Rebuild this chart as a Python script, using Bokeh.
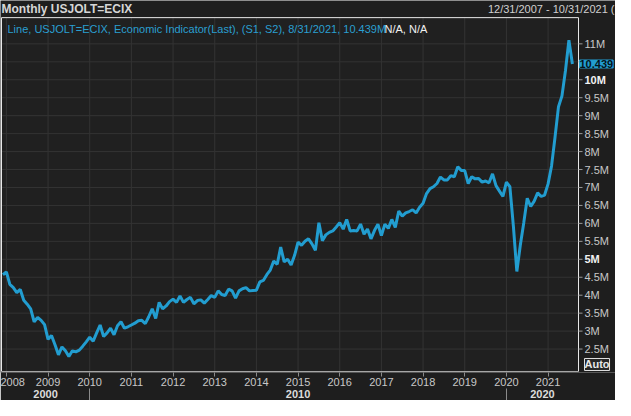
from bokeh.plotting import figure
from bokeh.models import (FixedTicker, LinearAxis, Label, Range1d, ColumnDataSource)
from bokeh.core.properties import value
from bokeh.embed import file_html
from bokeh.resources import INLINE

# ---------------- data ----------------
start_year = 2007
start_month = 12
# Monthly job openings, millions (Dec 2007 .. Aug 2021)
openings_m = [
    4.57,
    4.65, 4.30, 4.21, 4.07, 4.16, 3.86, 3.75, 3.62, 3.26, 3.38, 3.30, 3.18,   # 2008
    2.77, 2.88, 2.62, 2.34, 2.56, 2.45, 2.29, 2.45, 2.42, 2.47, 2.58, 2.70,   # 2009
    2.83, 2.72, 2.95, 3.17, 2.85, 2.95, 3.08, 2.90, 3.15, 3.26, 3.08, 3.12,   # 2010
    3.17, 3.22, 3.29, 3.30, 3.21, 3.40, 3.62, 3.35, 3.80, 3.62, 3.70, 3.82,   # 2011
    3.89, 3.80, 3.98, 3.80, 3.88, 3.94, 3.76, 3.85, 3.87, 3.78, 3.88, 3.99,   # 2012
    3.94, 4.12, 4.02, 3.99, 4.17, 4.12, 3.92, 4.12, 4.18, 4.21, 4.12, 4.13,   # 2013
    4.14, 4.37, 4.41, 4.57, 4.70, 4.95, 4.86, 5.34, 4.93, 5.00, 4.84, 5.11,   # 2014
    5.48, 5.39, 5.50, 5.57, 5.43, 5.25, 6.02, 5.52, 5.68, 5.75, 5.79, 5.90,   # 2015
    6.02, 5.84, 6.11, 5.79, 5.80, 5.79, 5.98, 5.70, 5.84, 5.57, 5.80, 5.98,   # 2016
    5.66, 5.98, 5.86, 6.11, 5.89, 6.34, 6.20, 6.29, 6.33, 6.38, 6.29, 6.45,   # 2017
    6.56, 6.83, 6.97, 7.02, 7.11, 7.29, 7.21, 7.21, 7.33, 7.30, 7.58, 7.47,   # 2018
    7.47, 7.11, 7.30, 7.24, 7.25, 7.15, 7.18, 7.13, 7.38, 7.05, 6.90, 6.75,   # 2019
    7.15, 7.02, 5.93, 4.66, 5.39, 6.02, 6.70, 6.47, 6.62, 6.85, 6.75, 6.79,   # 2020
    7.10, 7.60, 8.40, 9.25, 9.55, 10.25, 11.10, 10.439,                       # 2021
]
year_ticks = list(range(2008, 2022))
value_ticks = [2.5, 3.0, 3.5, 4.0, 4.5, 5.0, 5.5, 6.0, 6.5, 7.0, 7.5, 8.0,
               8.5, 9.0, 9.5, 10.0, 10.5, 11.0]
bold_value_ticks = [5.0, 10.0]
covered_value_ticks = [10.5]          # hidden behind the last-value tag
decade_labels = ["2000", "2010", "2020"]
decade_bounds = [2010, 2020]
title_text = "Monthly USJOLT=ECIX"
range_text = "12/31/2007 - 10/31/2021 ("
legend_text = "Line, USJOLT=ECIX, Economic Indicator(Last), (S1, S2), 8/31/2021, 10.439M"
legend_na = "N/A, N/A"
last_text = "10.439"
auto_text = "Auto"

# ---------------- layout / style ----------------
W, H = 615, 400
X0, X1 = 2007.883, 2021.73          # visible time span of the chart area
Y0, Y1 = 1.875, 11.73               # visible value span of the chart area
DATA_L, DATA_R, DATA_T = 1, 578, 17  # chart-area edges in figure pixels
BOTTOM_PANEL = 31
ppx = (DATA_R - DATA_L) / (X1 - X0)
ppy = (H - BOTTOM_PANEL - DATA_T - 1) / (Y1 - Y0)
XL, XR = X0 - DATA_L / ppx, X1 + (W - DATA_R) / ppx
YB, YT = Y0 - 1 / ppy, Y1 + DATA_T / ppy

FONT = "Liberation Sans"
BG = "#1e1e1e"
PLOT_BG = "#202020"
GRID = "#333333"
LINE = "#229dd0"
TXT = "#c8c8c8"
BORDER = "#e8e8e8"

t = [start_year + (start_month - 1) / 12 + i / 12 for i in range(len(openings_m))]

p = figure(width=W, height=H, output_backend="svg", toolbar_location=None,
           x_range=Range1d(XL, XR), y_range=Range1d(YB, YT),
           y_axis_location=None,
           min_border_left=0, min_border_right=0, min_border_top=0, min_border_bottom=0)
p.border_fill_color = BG
p.background_fill_color = BG
p.outline_line_color = None
p.xgrid.visible = False
p.ygrid.visible = False

# x axis (years)
xa = p.xaxis[0]
xa.ticker = FixedTicker(ticks=year_ticks, minor_ticks=[])
xa.axis_line_color = None
xa.major_tick_out = 4
xa.major_tick_in = 0
xa.major_tick_line_color = "#8a8a8a"
xa.minor_tick_line_color = None
xa.major_label_text_font = FONT
xa.major_label_text_font_size = "11px"
xa.major_label_text_color = TXT
xa.major_label_standoff = 1

# decade row
centers = [(X0 + decade_bounds[0]) / 2, (decade_bounds[0] + decade_bounds[1]) / 2,
           (decade_bounds[1] + X1) / 2]
xa2 = LinearAxis(ticker=FixedTicker(ticks=centers, minor_ticks=decade_bounds),
                 major_label_overrides={c: lab for c, lab in zip(centers, decade_labels)})
xa2.axis_line_color = None
xa2.major_tick_line_color = None
xa2.major_tick_out = 0
xa2.minor_tick_out = 13
xa2.minor_tick_in = 0
xa2.minor_tick_line_color = "#8a8a8a"
xa2.major_label_text_font = FONT
xa2.major_label_text_font_size = "11px"
xa2.major_label_text_font_style = "bold"
xa2.major_label_text_color = "#dcdcdc"
xa2.major_label_standoff = -12
p.add_layout(xa2, "below")

# chart area, grid, border
p.quad(left=[X0], right=[X1], bottom=[Y0], top=[Y1], fill_color=PLOT_BG, line_color=None)
p.segment(x0=X0, x1=X1, y0=value_ticks, y1=value_ticks, line_color=GRID, line_width=1)
p.segment(x0=year_ticks, x1=year_ticks, y0=Y0, y1=Y1, line_color=GRID, line_width=1)

p.line(t, openings_m, line_color=LINE, line_width=3)

p.segment(x0=[X0, X0, X1], x1=[X1, X0, X1], y0=[Y1, Y0, Y0], y1=[Y1, Y1, Y1],
          line_color=BORDER, line_width=1)
p.segment(x0=[X0], x1=[X1], y0=[Y0], y1=[Y0], line_color="#a8a8a8", line_width=1)

# value scale on the right of the chart area
p.ray(x=X1, y=value_ticks, length=4, length_units="screen", angle=0,
      line_color="#9a9a9a", line_width=1)
ysrc = ColumnDataSource(dict(
    x=[X1] * len(value_ticks), y=value_ticks,
    text=["" if v in covered_value_ticks else f"{v:g}M" for v in value_ticks],
    style=["bold" if v in bold_value_ticks else "normal" for v in value_ticks],
    color=["#f2f2f2" if v in bold_value_ticks else TXT for v in value_ticks],
))
p.text(x="x", y="y", text="text", source=ysrc, x_offset=6, text_baseline="middle",
       text_align="left", text_font=value(FONT), text_font_size="11px",
       text_font_style="style", text_color="color")

# last value tag
p.add_layout(Label(x=X1, y=openings_m[-1], x_offset=1, text=last_text, text_font=FONT,
                   text_font_size="11px", text_font_style="bold", text_color="#05141c",
                   text_baseline="middle", background_fill_color=LINE,
                   border_line_color=LINE))

# Auto box
p.add_layout(Label(x=X1, y=Y0, x_offset=6, y_offset=1, text=auto_text, text_font=FONT,
                   text_font_size="11px", text_font_style="bold", text_color="#e8e8e8",
                   text_baseline="bottom", border_line_color="#e0e0e0",
                   background_fill_color="#262626"))

# header
p.add_layout(Label(x=X0, y=Y1, x_offset=0, y_offset=9, text=title_text, text_font=FONT,
                   text_font_size="12px", text_font_style="bold", text_color="#d6d6d6",
                   text_baseline="middle"))
p.add_layout(Label(x=XR, y=Y1, x_offset=-1, y_offset=9, text=range_text, text_font=FONT,
                   text_font_size="11px", text_color="#d0d0d0", text_align="right",
                   text_baseline="middle"))

# legend text inside the chart area
p.add_layout(Label(x=X0, y=Y1, x_offset=6, y_offset=-11, text=legend_text, text_font=FONT,
                   text_font_size="11px", text_color="#2a9fd0", text_baseline="middle"))
p.add_layout(Label(x=X0, y=Y1, x_offset=383, y_offset=-11, text=legend_na, text_font=FONT,
                   text_font_size="11px", text_color="#f0f0f0", text_baseline="middle"))

open("out.html", "w").write(file_html(p, INLINE))
